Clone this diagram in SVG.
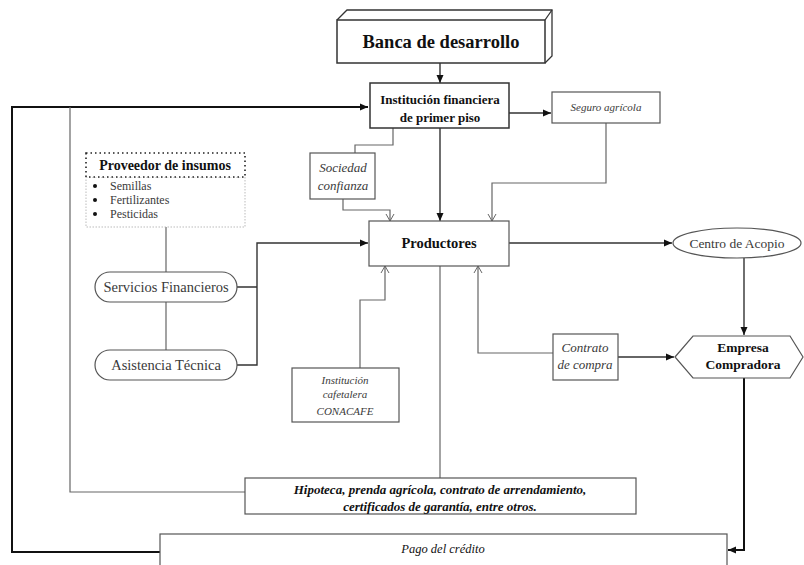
<svg xmlns="http://www.w3.org/2000/svg" width="804" height="565" viewBox="0 0 804 565" font-family="'Liberation Serif', 'Times New Roman', 'DejaVu Serif', serif">
<defs>
<marker id="solid" markerUnits="userSpaceOnUse" markerWidth="9" markerHeight="8" refX="8" refY="4" orient="auto">
<path d="M0,0.5 L8,4 L0,7.5 Z" fill="#111"/>
</marker>
<marker id="open" markerUnits="userSpaceOnUse" markerWidth="9" markerHeight="10" refX="8" refY="5" orient="auto">
<path d="M1,1 L8,5 L1,9" fill="none" stroke="#666" stroke-width="1"/>
</marker>
</defs>
<style>
text{font-family:'Liberation Serif','Times New Roman','DejaVu Serif',serif;text-anchor:middle}
.b{font-weight:bold}
.i{font-style:italic}
.g{fill:#3a3a3a}
.k{fill:#111}
.box{fill:#fff;stroke:#555;stroke-width:1.2}
.bx2{fill:#fff;stroke:#333;stroke-width:1.5}
.thin{fill:none;stroke:#666;stroke-width:1.2}
.thick{fill:none;stroke:#111;stroke-width:2}
.mid{fill:none;stroke:#333;stroke-width:1.4}
.st{text-anchor:start}
</style>
<rect width="804" height="565" fill="#fff"/>

<g id="connectors">
<path class="thick" d="M160,552 L12,552 L12,107 L368,107" marker-end="url(#solid)"/>
<path class="thin" d="M245,492 L70,492 L70,107"/>
<path class="mid" d="M440,63 L440,83" marker-end="url(#solid)"/>
<path class="mid" d="M509,113 L551,113" marker-end="url(#solid)"/>
<path class="thin" d="M606,123 L606,183 L492,183 L492,221" marker-end="url(#open)"/>
<path class="thin" d="M393,128 L393,145 L355,145 L355,153"/>
<path class="thin" d="M343,199 L343,210 L390,210 L390,221" marker-end="url(#open)"/>
<path class="mid" d="M440,128 L440,221" marker-end="url(#solid)"/>
<path class="thin" d="M166,227 L166,272 M166,302 L166,350"/>
<path class="mid" d="M237,287 L257,287 M237,365 L257,365 L257,243 L368,243" marker-end="url(#solid)"/>
<path class="mid" d="M509,243 L672,243" marker-end="url(#solid)"/>
<path class="mid" d="M744,258 L744,335" marker-end="url(#solid)"/>
<path class="thin" d="M360,368 L360,300 L385,300 L385,266" marker-end="url(#open)"/>
<path class="thin" d="M553,353 L478,353 L478,266" marker-end="url(#open)"/>
<path class="mid" d="M618,357 L674,357" marker-end="url(#solid)"/>
<path class="thin" d="M440,266 L440,478"/>
<path class="thick" d="M744,378 L744,550 L728,550" marker-end="url(#solid)"/>
</g>

<g id="banca">
<path d="M337,20 L347,10 L552,10 L552,56 L545,63" fill="#fff" stroke="#333" stroke-width="1.3"/>
<path d="M545,20 L552,10" stroke="#333" stroke-width="1.3"/>
<rect x="337" y="20" width="208" height="43" class="bx2"/>
<text x="441" y="48" class="b k" font-size="18.5">Banca de desarrollo</text>
</g>

<g id="institucion">
<rect x="370" y="83" width="139" height="45" class="bx2"/>
<text x="440" y="104" class="b k" font-size="13">Institución financiera</text>
<text x="440" y="122" class="b k" font-size="13">de primer piso</text>
</g>

<g id="seguro">
<rect x="552" y="92" width="108" height="31" class="box"/>
<text x="606" y="111" class="i g" font-size="11">Seguro agrícola</text>
</g>

<g id="sociedad">
<rect x="310" y="153" width="65" height="46" class="box"/>
<text x="343" y="172" class="i g" font-size="13">Sociedad</text>
<text x="343" y="190" class="i g" font-size="13">confianza</text>
</g>

<g id="proveedor">
<rect x="86" y="177" width="159" height="50" fill="#fff" stroke="#aaa" stroke-width="0.8" stroke-dasharray="1.5,1.5"/>
<rect x="86" y="153" width="159" height="24" fill="#fff" stroke="#222" stroke-width="1.6" stroke-dasharray="1.5,3"/>
<text x="165" y="170" class="b k" font-size="14">Proveedor de insumos</text>
<circle cx="95" cy="186" r="2" fill="#111"/>
<circle cx="95" cy="200" r="2" fill="#111"/>
<circle cx="95" cy="214" r="2" fill="#111"/>
<text x="110" y="190" font-size="12" class="st g">Semillas</text>
<text x="110" y="204" font-size="12" class="st g">Fertilizantes</text>
<text x="110" y="218" font-size="12" class="st g">Pesticidas</text>
</g>

<g id="productores">
<rect x="369" y="221" width="140" height="45" class="box"/>
<text x="439" y="248" class="b k" font-size="14.5">Productores</text>
</g>

<g id="servicios">
<rect x="95" y="272" width="142" height="30" rx="15" ry="15" class="box"/>
<text x="166" y="292" font-size="14.5" class="g">Servicios Financieros</text>
</g>

<g id="asistencia">
<rect x="95" y="350" width="142" height="30" rx="15" ry="15" class="box"/>
<text x="166" y="370" font-size="14.5" class="g">Asistencia Técnica</text>
</g>

<g id="centro">
<ellipse cx="737" cy="243" rx="64" ry="15" class="box"/>
<text x="737" y="248" font-size="13.5" class="g">Centro de Acopio</text>
</g>

<g id="empresa">
<polygon points="675,357 693,336 790,336 803,357 790,378 693,378" class="box"/>
<text x="743" y="352" class="b k" font-size="13.5">Empresa</text>
<text x="743" y="369" class="b k" font-size="13.5">Compradora</text>
</g>

<g id="contrato">
<rect x="553" y="334" width="65" height="46" class="box"/>
<text x="585" y="352" class="i g" font-size="13">Contrato</text>
<text x="585" y="369" class="i g" font-size="13">de compra</text>
</g>

<g id="conacafe">
<rect x="292" y="368" width="107" height="54" class="box"/>
<text x="345" y="384" class="i g" font-size="11">Institución</text>
<text x="345" y="398" class="i g" font-size="11">cafetalera</text>
<text x="345" y="415" class="i g" font-size="11">CONACAFE</text>
</g>

<g id="hipoteca">
<rect x="245" y="478" width="391" height="36" class="box"/>
<text x="440" y="494" class="b i k" font-size="13">Hipoteca, prenda agrícola, contrato de arrendamiento,</text>
<text x="440" y="511" class="b i k" font-size="13">certificados de garantía, entre otros.</text>
</g>

<g id="pago">
<rect x="160" y="534" width="567" height="40" class="box"/>
<text x="443" y="553" class="i k" font-size="12.5">Pago del crédito</text>
</g>
</svg>
